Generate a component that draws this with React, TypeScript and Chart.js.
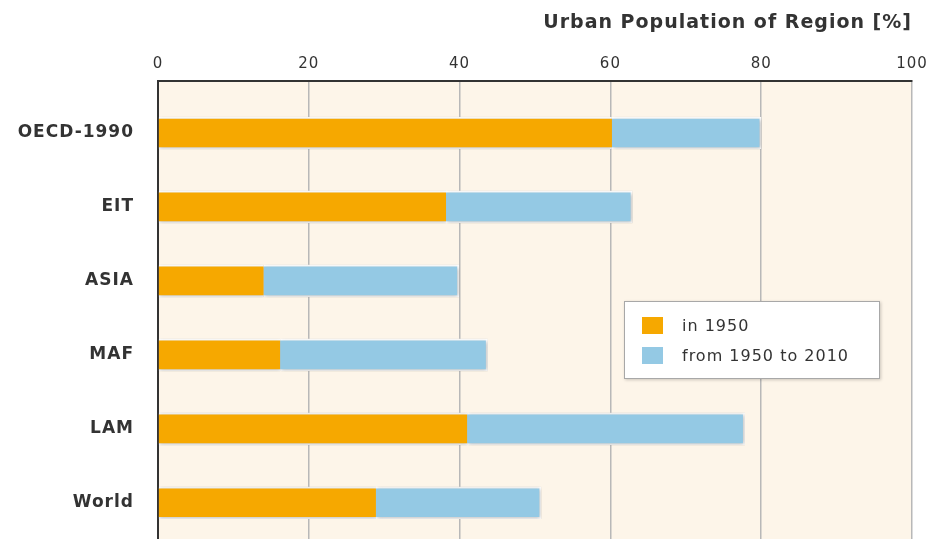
import React, { useEffect, useRef } from "react";
import { Chart, registerables } from "chart.js";

Chart.register(...registerables);

const categories = ["OECD-1990", "EIT", "ASIA", "MAF", "LAM", "World"];
const in1950 = [60.2, 38.2, 14.0, 16.2, 41.0, 28.9];
const from1950to2010 = [19.8, 24.7, 25.9, 27.5, 36.8, 21.9];
const seriesLabels = ["in 1950", "from 1950 to 2010"];
const xTicks = [0, 20, 40, 60, 80, 100];
const axisTitle = "Urban Population of Region [%]";

const ORANGE = "#F6A800";
const BLUE = "#94C9E4";
const CREAM = "#FDF5E9";
const TEXT = "#333333";
const FONT = "'DejaVu Sans', sans-serif";

const spacingPlugin = {
  id: "spacing",
  beforeUpdate(chart: any) {
    chart.ctx.letterSpacing = "1px";
  },
  beforeDraw(chart: any) {
    const { ctx, chartArea } = chart;
    ctx.letterSpacing = "1px";
    ctx.save();
    ctx.fillStyle = CREAM;
    ctx.fillRect(chartArea.left, chartArea.top, chartArea.right - chartArea.left, chartArea.bottom - chartArea.top);
    ctx.restore();
  },
  beforeDatasetsDraw(chart: any) {
    const ctx = chart.ctx;
    ctx.save();
    ctx.shadowColor = "rgba(0,0,0,0.28)";
    ctx.shadowBlur = 4;
    ctx.shadowOffsetX = 1;
    ctx.shadowOffsetY = 1;
  },
  afterDatasetsDraw(chart: any) {
    chart.ctx.restore();
  },
};

export default function App() {
  const ref = useRef<HTMLCanvasElement>(null);

  useEffect(() => {
    if (!ref.current) return;
    const chart = new Chart(ref.current, {
      type: "bar",
      data: {
        datasets: [
          {
            label: seriesLabels[0],
            data: in1950.map((v, i) => ({ x: v, y: i })),
            backgroundColor: ORANGE,
            borderColor: "#ffffff",
            borderWidth: { top: 2, bottom: 2, left: 0, right: 0 },
            borderSkipped: false,
            barThickness: 32,
          },
          {
            label: seriesLabels[1],
            data: from1950to2010.map((v, i) => ({ x: v, y: i })),
            backgroundColor: BLUE,
            borderColor: "#ffffff",
            borderWidth: { top: 2, bottom: 2, left: 0, right: 2 },
            borderSkipped: false,
            barThickness: 32,
          },
        ] as any,
      },
      options: {
        animation: false,
        responsive: false,
        indexAxis: "y",
        layout: { padding: { top: 0, bottom: 0, left: 0, right: 15 } },
        plugins: {
          legend: { display: false },
          tooltip: { enabled: false },
        },
        scales: {
          x: {
            type: "linear",
            position: "top",
            stacked: true,
            offset: false,
            min: 0,
            max: 100,
            afterBuildTicks: (scale: any) => {
              scale.ticks = xTicks.map((v) => ({ value: v }));
            },
            afterFit: (scale: any) => {
              scale.height = 81;
              scale.paddingLeft = 0;
              scale.paddingRight = 0;
              scale.paddingTop = 0;
              scale.paddingBottom = 0;
            },
            ticks: {
              color: TEXT,
              font: { family: FONT, size: 15 },
              padding: 8,
            },
            grid: {
              color: "#b8b8b8",
              lineWidth: 1.5,
              drawTicks: false,
              offset: false,
            },
            border: { display: true, color: "#333333", width: 2 },
            title: {
              display: true,
              text: axisTitle,
              align: "end",
              color: TEXT,
              font: { family: FONT, size: 19, weight: "bold" },
              padding: { top: 12, bottom: 0 },
            },
          },
          y: {
            type: "linear",
            reverse: true,
            stacked: true,
            offset: false,
            min: -0.703,
            max: 5.49,
            afterBuildTicks: (scale: any) => {
              scale.ticks = categories.map((_, i) => ({ value: i }));
            },
            afterFit: (scale: any) => {
              scale.width = 158;
              scale.paddingLeft = 0;
              scale.paddingRight = 0;
              scale.paddingTop = 0;
              scale.paddingBottom = 0;
            },
            ticks: {
              color: TEXT,
              font: { family: FONT, size: 17, weight: "bold" },
              padding: 24,
              callback: (v: any) => categories[v] ?? "",
            },
            grid: { display: false, drawTicks: false, offset: false },
            border: { display: true, color: "#333333", width: 2 },
          },
        },
      } as any,
      plugins: [spacingPlugin],
    });
    return () => chart.destroy();
  }, []);

  return (
    <div
      style={{
        position: "fixed",
        left: 0,
        top: 0,
        width: 927,
        height: 539,
        overflow: "hidden",
        background: "#ffffff",
      }}
    >
      <canvas ref={ref} width={927} height={539} style={{ display: "block" }} />
      <div
        style={{
          position: "absolute",
          left: 624,
          top: 301,
          width: 256,
          height: 78,
          boxSizing: "border-box",
          background: "#ffffff",
          border: "1px solid #a8a8a8",
          boxShadow: "1px 1px 3px rgba(0,0,0,0.2)",
          fontFamily: FONT,
          fontSize: 16,
          letterSpacing: "1px",
          color: TEXT,
        }}
      >
        {seriesLabels.map((lab, i) => (
          <div
            key={lab}
            style={{
              position: "absolute",
              left: 17,
              top: 14 + i * 30,
              display: "flex",
              alignItems: "center",
              whiteSpace: "nowrap",
              height: 18,
            }}
          >
            <span
              style={{
                display: "inline-block",
                width: 21,
                height: 17,
                background: i === 0 ? ORANGE : BLUE,
                marginRight: 19,
              }}
            />
            <span>{lab}</span>
          </div>
        ))}
      </div>
    </div>
  );
}
